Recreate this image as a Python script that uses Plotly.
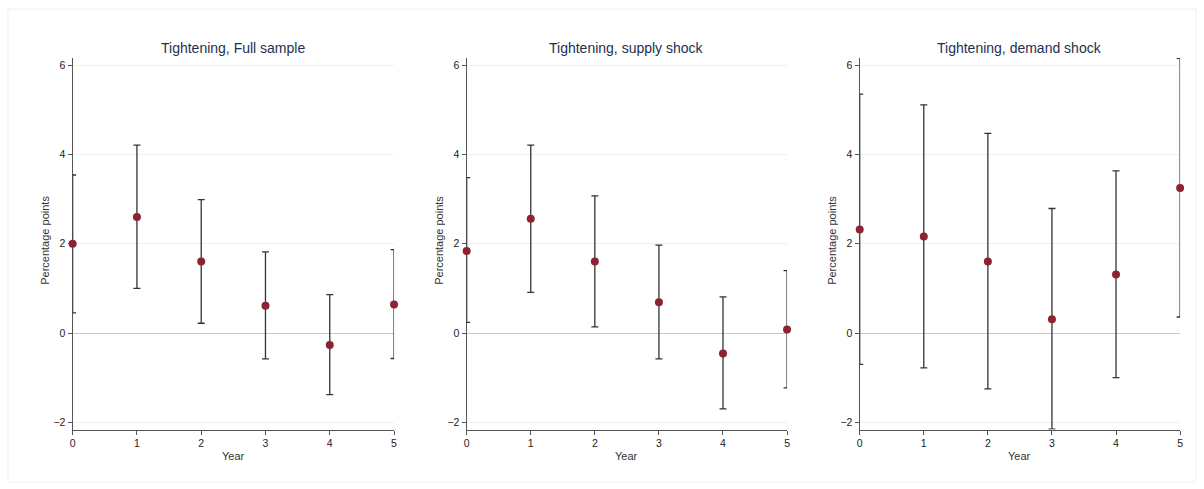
import plotly.graph_objects as go

years = [0, 1, 2, 3, 4, 5]
titles = ["Tightening, Full sample", "Tightening, supply shock", "Tightening, demand shock"]

full_est = [2.00, 2.60, 1.60, 0.61, -0.27, 0.64]
full_hi = [3.54, 4.21, 2.99, 1.82, 0.86, 1.87]
full_lo = [0.45, 1.00, 0.22, -0.58, -1.38, -0.57]

supply_est = [1.84, 2.56, 1.60, 0.69, -0.46, 0.08]
supply_hi = [3.48, 4.21, 3.07, 1.97, 0.81, 1.40]
supply_lo = [0.24, 0.91, 0.14, -0.58, -1.70, -1.23]

demand_est = [2.32, 2.16, 1.60, 0.31, 1.31, 3.25]
demand_hi = [5.35, 5.11, 4.47, 2.79, 3.63, 6.15]
demand_lo = [-0.70, -0.78, -1.25, -2.15, -1.00, 0.36]

y_ticks = [-2, 0, 2, 4, 6]

W, H = 1204, 489
panels = [
    (full_est, full_hi, full_lo, 70, 393),
    (supply_est, supply_hi, supply_lo, 466, 788),
    (demand_est, demand_hi, demand_lo, 861, 1183),
]
y_top, y_bot = 58, 429.5

fig = go.Figure()
font_fam = "Arial, Liberation Sans, sans-serif"
axis_col = "#555555"

for i, (est, hi, lo, x0, x1) in enumerate(panels):
    n = i + 1
    xa = "x" if n == 1 else f"x{n}"
    ya = "y" if n == 1 else f"y{n}"
    fig.add_trace(go.Scatter(
        x=years, y=est, mode="markers",
        marker=dict(color="#8b2332", size=8),
        error_y=dict(type="data", symmetric=False,
                     array=[h - e for h, e in zip(hi, est)],
                     arrayminus=[e - l for e, l in zip(est, lo)],
                     color="#333333", thickness=1.3, width=3.5),
        xaxis=xa, yaxis=ya, showlegend=False, cliponaxis=False,
    ))
    xkey = "xaxis" if n == 1 else f"xaxis{n}"
    ykey = "yaxis" if n == 1 else f"yaxis{n}"
    fig.update_layout({
        xkey: dict(domain=[x0 / W, x1 / W], range=[0, 5], anchor=ya,
                   tickvals=years, ticks="outside", ticklen=4, tickcolor=axis_col,
                   showline=True, linecolor=axis_col, linewidth=1.3,
                   showgrid=False, zeroline=False, layer="below traces",
                   tickfont=dict(size=10.5, color="#222222", family=font_fam)),
        ykey: dict(domain=[1 - y_bot / H, 1 - y_top / H], range=[-2.16, 6.16], anchor=xa,
                   tickvals=y_ticks, ticks="outside", ticklen=4, tickcolor=axis_col,
                   showline=True, linecolor=axis_col, linewidth=1.3,
                   showgrid=True, gridcolor="#eaf2f3", gridwidth=1,
                   zeroline=True, zerolinecolor="#c8c8c8", zerolinewidth=1.3,
                   layer="below traces",
                   tickfont=dict(size=10.5, color="#222222", family=font_fam)),
    })
    cx = (x0 + x1) / 2 / W
    fig.add_annotation(x=cx, y=1 - 48 / H, xref="paper", yref="paper",
                       xanchor="center", yanchor="middle",
                       text=titles[i], showarrow=False,
                       font=dict(size=14, color="#1e2f4f", family=font_fam))
    fig.add_annotation(x=cx, y=1 - 456 / H, xref="paper", yref="paper",
                       xanchor="center", yanchor="middle",
                       text="Year", showarrow=False,
                       font=dict(size=11, color="#333333", family=font_fam))
    fig.add_annotation(x=(x0 - 28) / W, y=1 - 240 / H, xref="paper", yref="paper",
                       xanchor="center", yanchor="middle",
                       text="Percentage points", showarrow=False, textangle=-90,
                       font=dict(size=11, color="#333333", family=font_fam))

fig.add_shape(type="rect", xref="paper", yref="paper",
              x0=5 / W, x1=1199 / W, y0=1 - 482 / H, y1=1 - 9 / H,
              line=dict(color="#f0f0f0", width=1), layer="below")

fig.update_layout(width=W, height=H, margin=dict(l=0, r=0, t=0, b=0),
                  paper_bgcolor="white", plot_bgcolor="white")

fig.write_html("out.html", config={"displayModeBar": False},
               post_script="document.body.style.margin='0';document.body.style.overflow='hidden';")
